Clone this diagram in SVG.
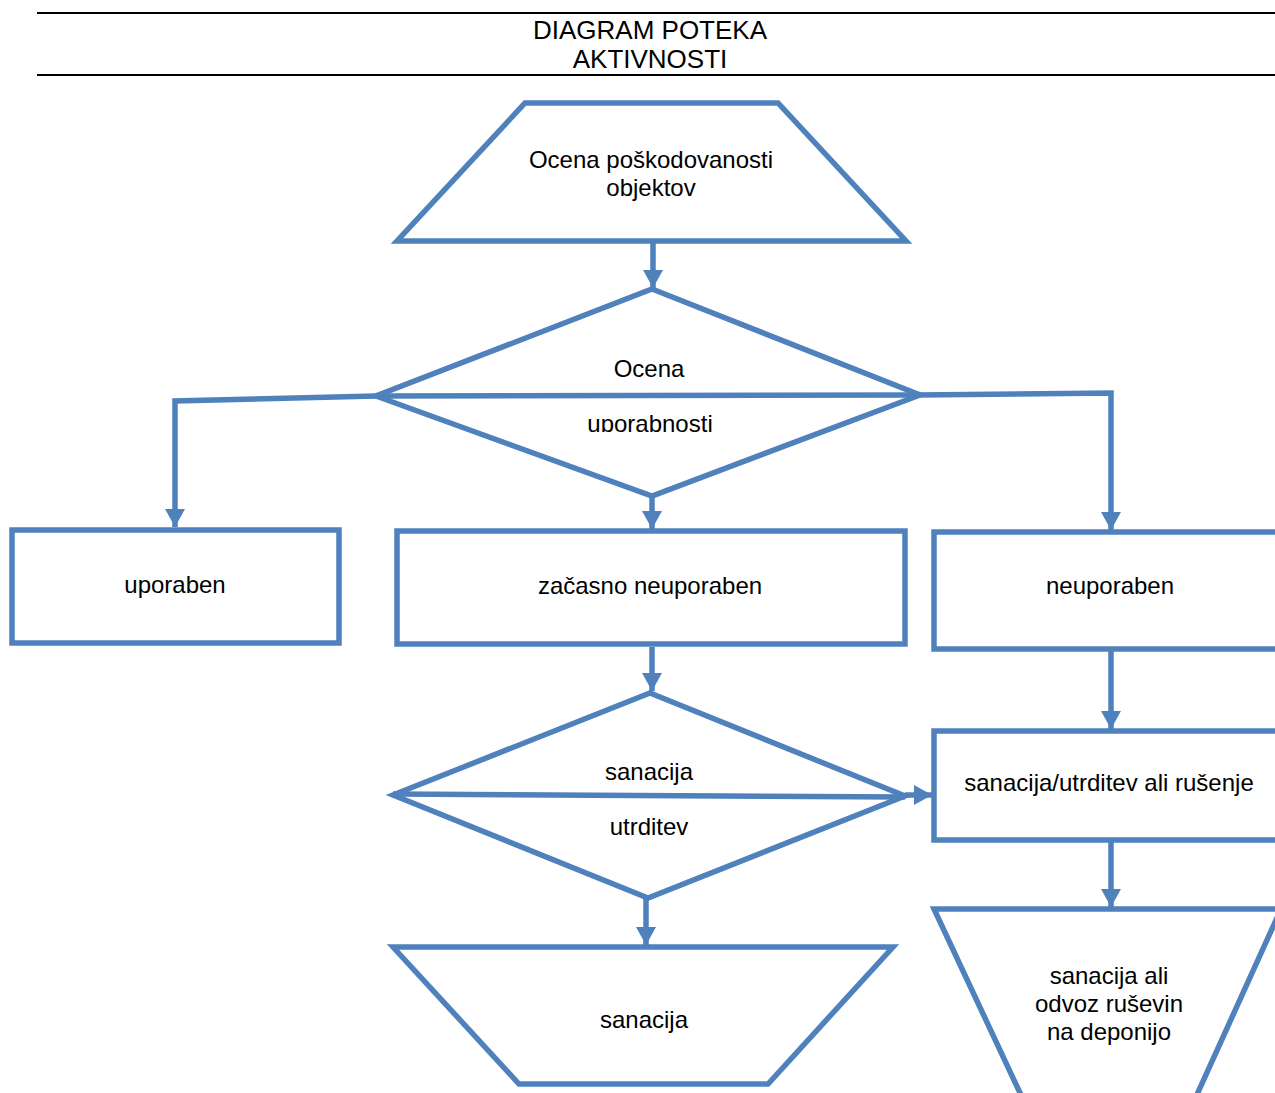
<svg xmlns="http://www.w3.org/2000/svg" width="1275" height="1093" viewBox="0 0 1275 1093">
<style>
.shape{fill:#fff;stroke:#4F81BD;stroke-width:5.5;stroke-linejoin:miter}
.conn{fill:none;stroke:#4F81BD;stroke-width:5.5}
.t{font-family:"Liberation Sans",Arial,sans-serif;font-size:24px;fill:#000;text-anchor:middle}
.title{font-family:"Liberation Sans",Arial,sans-serif;font-size:26px;fill:#000;text-anchor:middle}
.rule{stroke:#000;stroke-width:2}
</style>
<defs>
<marker id="ah" markerUnits="userSpaceOnUse" markerWidth="18" markerHeight="20" refX="18" refY="10" orient="auto">
<path d="M0,0 L18,10 L0,20 z" fill="#4F81BD"/>
</marker>
<clipPath id="clipU"><rect x="0" y="0" width="1275" height="432"/></clipPath>
</defs>
<rect width="1275" height="1093" fill="#fff"/>

<g id="header">
<line class="rule" x1="37" y1="13" x2="1275" y2="13"/>
<line class="rule" x1="37" y1="75" x2="1275" y2="75"/>
<text class="title" x="650" y="39">DIAGRAM POTEKA</text>
<text class="title" x="650" y="68">AKTIVNOSTI</text>
</g>

<g id="n-ocena-poskodovanosti">
<polygon class="shape" points="525,103 778,103 906,241 397,241"/>
<text class="t" x="651" y="168">Ocena poškodovanosti</text>
<text class="t" x="651" y="196">objektov</text>
</g>

<g id="n-ocena-uporabnosti">
<polygon class="shape" points="652,289 920,395 652,496 376,396"/>
<line class="conn" x1="376" y1="396" x2="920" y2="395"/>
<text class="t" x="649" y="377">Ocena</text>
<text class="t" x="650" y="432" clip-path="url(#clipU)">uporabnosti</text>
</g>

<g id="n-uporaben">
<rect class="shape" x="12" y="530" width="327" height="113"/>
<text class="t" x="175" y="593">uporaben</text>
</g>

<g id="n-zacasno">
<rect class="shape" x="397" y="531" width="508" height="113"/>
<text class="t" x="650" y="594">začasno neuporaben</text>
</g>

<g id="n-neuporaben">
<rect class="shape" x="934" y="532" width="360" height="117"/>
<text class="t" x="1110" y="594">neuporaben</text>
</g>

<g id="n-sanacija-utrditev">
<polygon class="shape" points="650,693 905,796 648,898 393,795"/>
<line class="conn" x1="393" y1="794" x2="905" y2="797"/>
<text class="t" x="649" y="780">sanacija</text>
<text class="t" x="649" y="835">utrditev</text>
</g>

<g id="n-sanacija-utrditev-rusenje">
<rect class="shape" x="934" y="731" width="360" height="109"/>
<text class="t" x="1109" y="791">sanacija/utrditev ali rušenje</text>
</g>

<g id="n-sanacija">
<polygon class="shape" points="393,947 893,947 768,1084 519,1084"/>
<text class="t" x="644" y="1028">sanacija</text>
</g>

<g id="n-odvoz">
<polygon class="shape" points="934,909 1281,909 1190,1110 1028,1110"/>
<text class="t" x="1109" y="984">sanacija ali</text>
<text class="t" x="1109" y="1012">odvoz ruševin</text>
<text class="t" x="1109" y="1040">na deponijo</text>
</g>

<g id="connectors">
<line class="conn" x1="653" y1="243" x2="653" y2="288" marker-end="url(#ah)"/>
<polyline class="conn" points="376,396 175,401 175,527" marker-end="url(#ah)"/>
<polyline class="conn" points="918,395 1111,393 1111,530" marker-end="url(#ah)"/>
<line class="conn" x1="652" y1="496" x2="652" y2="529" marker-end="url(#ah)"/>
<line class="conn" x1="652" y1="647" x2="652" y2="691" marker-end="url(#ah)"/>
<line class="conn" x1="1111" y1="651" x2="1111" y2="729" marker-end="url(#ah)"/>
<line class="conn" x1="905" y1="795" x2="932" y2="795" marker-end="url(#ah)"/>
<line class="conn" x1="1111" y1="842" x2="1111" y2="907" marker-end="url(#ah)"/>
<line class="conn" x1="646" y1="898" x2="646" y2="945" marker-end="url(#ah)"/>
</g>
</svg>
